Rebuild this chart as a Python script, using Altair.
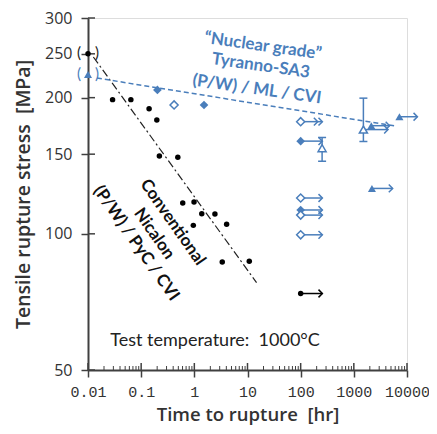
import altair as alt
import pandas as pd

BLUE = "#4A7EBB"
DARK = "#333333"
W, H = 319, 352

# ---------------- data ----------------
# Conventional Nicalon (P/W)/PyC/CVI
nic_time = [0.029, 0.064, 0.141, 0.197, 0.22, 0.489, 0.605, 0.987, 1.38, 2.44, 4.05, 0.957, 3.35, 10.8, 100]
nic_stress = [198, 198, 189, 178.5, 148.6, 147.6, 117, 117.6, 110.8, 110.6, 105, 104.4, 86.6, 87, 73.8]
nic_ref_time = [0.01]
nic_ref_stress = [250]

# Nuclear grade Tyranno-SA3 (P/W)/ML/CVI
dia_f_time = [0.202, 1.52, 100, 100]
dia_f_stress = [208, 192.7, 160.3, 112.9]
dia_o_time = [0.416, 100, 100, 100, 100]
dia_o_stress = [192.7, 177, 120, 110, 99.5]
tri_f_time = [0.01, 2130, 2190, 7200]
tri_f_stress = [225, 173.4, 126, 181.5]
tri_o_time = [253, 1513]
tri_o_stress = [154.6, 170]
tri_o_low = [144.7, 160]
tri_o_high = [163.3, 199.5]

# run-out arrows
arr_start = [100, 100, 100, 100, 100, 100, 1513, 2130, 2190, 7200]
arr_end = [256, 256, 256, 256, 256, 256, 4400, 4700, 5370, 15700]
arr_stress = [73.8, 160.3, 112.9, 120, 110, 99.5, 170, 173.4, 126, 181.5]
arr_color = ["black", BLUE, BLUE, BLUE, BLUE, BLUE, BLUE, BLUE, BLUE, BLUE]
dbl_start = [100]
dbl_end = [256]
dbl_stress = [177]

# trend lines
nic_fit_time = [0.0126, 14.8]
nic_fit_stress = [246, 78]
sa3_fit_time = [0.0147, 6270]
sa3_fit_stress = [221, 173]

# axes
x_ticks = [0.01, 0.1, 1, 10, 100, 1000, 10000]
x_minor = [m * d for d in [0.01, 0.1, 1, 10, 100, 1000] for m in range(2, 10)]
y_ticks = [50, 100, 150, 200, 250, 300]

# annotations
blue_text = ["\u201cNuclear grade\u201d", "Tyranno-SA3", "(P/W) / ML / CVI"]
blue_text_t = [19.5, 17.8, 15.0]
blue_text_s = [260, 235, 208.6]
blk_text = ["Conventional", "Nicalon", "(P/W) / PyC / CVI"]
blk_text_t = [0.39, 0.175, 0.0806]
blk_text_s = [106, 100, 95.3]
temp_text = ["Test temperature:\u00a0 1000\u00b0C"]
temp_t = [0.0263]
temp_s = [58.1]

# ---------------- encodings ----------------
xscale = alt.Scale(type="log", domain=[0.01, 10000])
yscale = alt.Scale(type="log", domain=[50, 300])
xaxis = alt.Axis(values=x_ticks, labelExpr="'' + datum.value", grid=False,
                 title="Time to rupture\u00a0 [hr]", titleFont="Open Sans", titleFontSize=18.5,
                 titleFontWeight=600, titleColor=DARK, titlePadding=6,
                 labelFont="Liberation Mono", labelFontSize=15, labelColor=DARK,
                 labelPadding=7, tickSize=7, tickColor="#404040", tickWidth=1.5,
                 domainColor="#404040", domainWidth=2, labelFlush=False, labelOverlap=False)
yaxis = alt.Axis(values=y_ticks, labelExpr="'' + datum.value", grid=False,
                 title="Tensile rupture stress\u00a0 [MPa]", titleFont="Open Sans", titleFontSize=19.5,
                 titleFontWeight=600, titleColor=DARK, titlePadding=11,
                 labelFont="Open Sans", labelFontSize=16, labelColor=DARK,
                 labelPadding=9, tickSize=7, tickColor="#404040", tickWidth=1.5,
                 domainColor="#404040", domainWidth=2, labelFlush=False, labelOverlap=False)


def X(f="t"):
    return alt.X(f"{f}:Q", scale=xscale, axis=xaxis)


def Y(f="s"):
    return alt.Y(f"{f}:Q", scale=yscale, axis=yaxis)


df = lambda **k: alt.Data(values=pd.DataFrame(k).to_dict("records"))

layers = []

# inner tick marks
layers.append(alt.Chart(df(t=x_minor)).mark_rule(color="#404040", strokeWidth=1).encode(
    x=X(), y=alt.value(H), y2=alt.value(H - 4)))
layers.append(alt.Chart(df(t=x_ticks)).mark_rule(color="#404040", strokeWidth=1.5).encode(
    x=X(), y=alt.value(H), y2=alt.value(H - 7)))
layers.append(alt.Chart(df(s=y_ticks)).mark_rule(color="#404040", strokeWidth=1.5).encode(
    y=Y(), x=alt.value(0), x2=alt.value(7)))

# trend lines
layers.append(alt.Chart(df(t=nic_fit_time, s=nic_fit_stress)).mark_line(
    color="#222222", strokeWidth=1.2, strokeDash=[8, 3, 2, 3]).encode(x=X(), y=Y()))
layers.append(alt.Chart(df(t=sa3_fit_time, s=sa3_fit_stress)).mark_line(
    color=BLUE, strokeWidth=1.5, strokeDash=[5, 3]).encode(x=X(), y=Y()))

# error bars
layers.append(alt.Chart(df(t=tri_o_time, lo=tri_o_low, hi=tri_o_high)).mark_rule(
    color=BLUE, strokeWidth=1.5).encode(x=X(), y=Y("lo"), y2="hi:Q"))
layers.append(alt.Chart(df(t=tri_o_time + tri_o_time, s=tri_o_low + tri_o_high)).mark_point(
    shape="M-1,0L1,0", size=64, filled=False, color=BLUE, strokeWidth=1.5, opacity=1).encode(x=X(), y=Y()))

# arrows
layers.append(alt.Chart(df(t=arr_start, e=arr_end, s=arr_stress, c=arr_color)).mark_rule(
    strokeWidth=1.5).encode(x=X(), x2="e:Q", y=Y(), color=alt.Color("c:N", scale=None)))
layers.append(alt.Chart(df(t=arr_end, s=arr_stress, c=arr_color)).mark_point(
    shape="M-1,-1L0,0L-1,1", size=60, filled=False, strokeWidth=1.5, opacity=1).encode(
    x=X(), y=Y(), color=alt.Color("c:N", scale=None)))
layers.append(alt.Chart(df(t=dbl_start, e=dbl_end, s=dbl_stress)).mark_rule(
    strokeWidth=1.5, color=BLUE).encode(x=X(), x2="e:Q", y=Y()))
layers.append(alt.Chart(df(t=dbl_end, s=dbl_stress)).mark_point(
    shape="M-1,-1L0,0L-1,1M-2.2,-1L-1.2,0L-2.2,1", size=60, filled=False, strokeWidth=1.5,
    color=BLUE, opacity=1).encode(x=X(), y=Y()))

# points
layers.append(alt.Chart(df(t=nic_time + nic_ref_time, s=nic_stress + nic_ref_stress)).mark_circle(
    size=30, color="black", opacity=1).encode(x=X(), y=Y()))
layers.append(alt.Chart(df(t=dia_f_time, s=dia_f_stress)).mark_point(
    shape="diamond", size=75, filled=True, color=BLUE, opacity=1).encode(x=X(), y=Y()))
layers.append(alt.Chart(df(t=dia_o_time, s=dia_o_stress)).mark_point(
    shape="diamond", size=65, filled=False, fill="white", stroke=BLUE, strokeWidth=1.5,
    opacity=1, fillOpacity=1).encode(x=X(), y=Y()))
layers.append(alt.Chart(df(t=tri_f_time, s=tri_f_stress)).mark_point(
    shape="triangle-up", size=65, filled=True, color=BLUE, opacity=1).encode(x=X(), y=Y()))
layers.append(alt.Chart(df(t=tri_o_time, s=tri_o_stress)).mark_point(
    shape="triangle-up", size=65, filled=False, fill="white", stroke=BLUE, strokeWidth=1.5,
    opacity=1, fillOpacity=1).encode(x=X(), y=Y()))

# parentheses around reference points
for s_, col in [(nic_ref_stress[0], "#222222"), (tri_f_stress[0], BLUE)]:
    for txt, dx in [("(", -9), (")", 9)]:
        layers.append(alt.Chart(df(t=[0.01], s=[s_], l=[txt])).mark_text(
            font="Lato", fontSize=15, color=col, dx=dx, dy=-1).encode(x=X(), y=Y(), text="l:N"))

# annotations
layers.append(alt.Chart(df(t=blue_text_t, s=blue_text_s, l=blue_text)).mark_text(
    font="Lato", fontSize=17, fontWeight="bold", color=BLUE, angle=8, align="center",
    baseline="middle").encode(x=X(), y=Y(), text="l:N"))
layers.append(alt.Chart(df(t=blk_text_t, s=blk_text_s, l=blk_text)).mark_text(
    font="Lato", fontSize=17, fontWeight="bold", color="#111111", angle=55, align="center",
    baseline="middle").encode(x=X(), y=Y(), text="l:N"))
layers.append(alt.Chart(df(t=temp_t, s=temp_s, l=temp_text)).mark_text(
    font="Lato", fontSize=18, color="#222222", align="left",
    baseline="middle").encode(x=X(), y=Y(), text="l:N"))

chart = alt.layer(*layers).properties(
    width=W, height=H,
    autosize=alt.AutoSizeParams(type="none"),
    padding={"left": 80, "top": 10, "right": 22, "bottom": 56},
).configure_view(stroke="#7f7f7f", strokeWidth=2).configure(background="white")

chart.save("out.html", embed_options={"renderer": "svg", "actions": False})
